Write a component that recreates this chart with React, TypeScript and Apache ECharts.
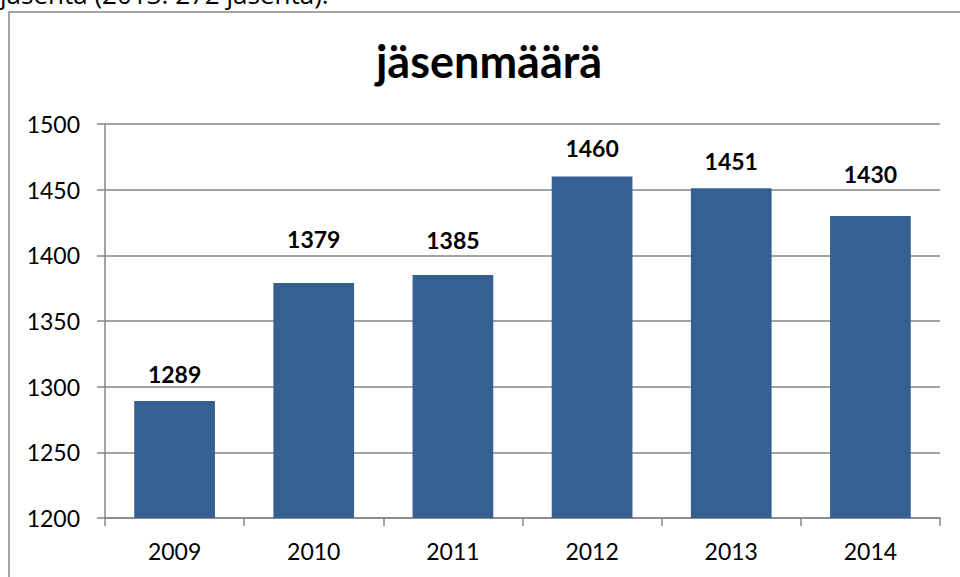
import React, { useEffect, useRef } from "react";
import * as echarts from "echarts";

const years = ["2009", "2010", "2011", "2012", "2013", "2014"];
const members = [1289, 1379, 1385, 1460, 1451, 1430];
const labelLift = [0, 16, 8, 1, 0, 14];
const yTicks = { min: 1200, max: 1500, interval: 50 };
const titleText = "jäsenmäärä";
const topText = "jäsentä (2013: 272 jäsentä).";

export default function App() {
  const ref = useRef<HTMLDivElement>(null);
  useEffect(() => {
    if (!ref.current) return;
    const chart = echarts.init(ref.current, undefined, { renderer: "svg" });
    const gray = "#868686";
    chart.setOption({
      animation: false,
      backgroundColor: "#ffffff",
      graphic: [
        {
          type: "text",
          x: 0,
          y: 7,
          style: {
            text: topText,
            font: '26px "Open Sans", sans-serif',
            fill: "#000",
            verticalAlign: "bottom",
          },
        },
        {
          type: "rect",
          shape: { x: 9, y: 12, width: 1000, height: 700 },
          style: { fill: "none", stroke: gray, lineWidth: 1.5 },
          z: -1,
        },
        {
          type: "text",
          x: 489,
          y: 61,
          style: {
            text: titleText,
            font: 'bold 45px Lato, sans-serif',
            fill: "#000",
            align: "center",
            verticalAlign: "middle",
          },
        },
      ],
      grid: { left: 105, right: 20, top: 124, bottom: 59, containLabel: false },
      xAxis: {
        type: "category",
        data: years,
        axisLine: { lineStyle: { color: gray, width: 1.5 } },
        axisTick: { show: true, length: 8, lineStyle: { color: gray, width: 1.5 } },
        axisLabel: {
          color: "#000",
          fontSize: 23,
          fontFamily: "Lato, sans-serif",
          margin: 21,
        },
        splitLine: { show: false },
      },
      yAxis: {
        type: "value",
        min: yTicks.min,
        max: yTicks.max,
        interval: yTicks.interval,
        axisLine: { show: true, lineStyle: { color: gray, width: 1.5 } },
        axisTick: { show: true, length: 8, lineStyle: { color: gray, width: 1.5 } },
        axisLabel: {
          color: "#000",
          fontSize: 23,
          fontFamily: "Lato, sans-serif",
          margin: 25,
          formatter: (v: number) => String(v),
        },
        splitLine: { show: true, lineStyle: { color: gray, width: 1.5 } },
      },
      series: [
        {
          type: "bar",
          barWidth: "58%",
          data: members.map((v, i) => ({
            value: v,
            label: { offset: [0, -labelLift[i]] },
          })),
          itemStyle: { color: "#376092" },
          label: {
            show: true,
            position: "top",
            distance: 16,
            color: "#000",
            fontSize: 23,
            fontWeight: "bold",
            fontFamily: "Lato, sans-serif",
          },
        },
      ],
    });
    return () => chart.dispose();
  }, []);
  return (
    <div
      ref={ref}
      style={{ position: "absolute", left: 0, top: 0, width: 960, height: 577 }}
    />
  );
}
